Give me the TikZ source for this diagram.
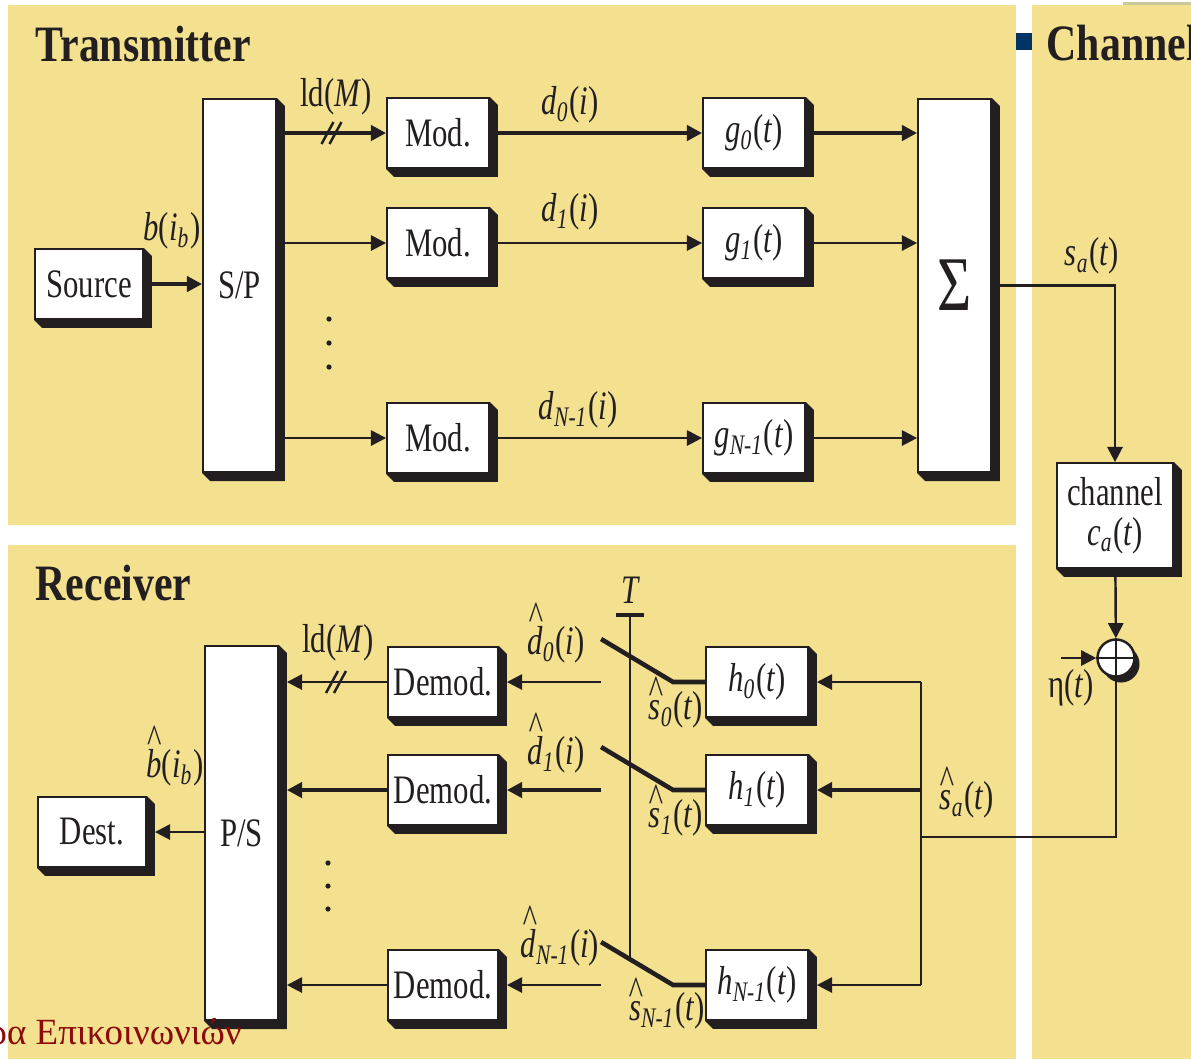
\documentclass[tikz,border=0pt]{standalone}
\usepackage{fontspec}
\setmainfont{Liberation Serif}[FakeStretch=0.76]
\newfontfamily\ttlfont{Liberation Serif}[FakeStretch=0.82]
\newfontfamily\grfont{Liberation Serif}
\usetikzlibrary{positioning,calc,arrows.meta,backgrounds}
\definecolor{panel}{HTML}{F3E18F}
\definecolor{ink}{HTML}{231F20}
\definecolor{navy}{HTML}{003366}
\definecolor{wine}{HTML}{8B0A0A}
\definecolor{strip}{HTML}{C9C99B}
\newcommand{\sg}[3]{\textit{#1}\textsubscript{\textit{#2}}(\textit{#3})}
\newlength{\hraise}
\newcommand{\hatt}[1]{\settoheight{\hraise}{\textit{#1}}\addtolength{\hraise}{-0.08em}%
  \ooalign{\textit{#1}\cr\hidewidth\raisebox{\hraise}{\textasciicircum}\hidewidth\cr}}
\tikzset{
  blk/.style  ={draw=ink, fill=white, line width=0.5pt, inner sep=1pt, align=center,
                font=\fontsize{11.5}{11.5}\selectfont, text=ink,
                minimum width=1.02cm, minimum height=0.70cm},
  % tall converter / summing blocks
  tall/.style ={blk, minimum width=0.73cm, minimum height=3.73cm},
  shade/.style={fill=ink},
  wire/.style ={ink, line width=0.7pt},
  wireb/.style={ink, line width=1.3pt},
  flow/.style ={wire, -{Triangle[length=4.3pt,width=4.3pt]}},
  flowb/.style={wireb, -{Triangle[length=4.3pt,width=4.3pt]}},
  lbl/.style  ={font=\fontsize{11.5}{13}\selectfont, text=ink, inner sep=0pt},
  ttl/.style  ={font=\ttlfont\fontsize{14.5}{16}\selectfont\bfseries, text=ink,
                inner sep=0pt, anchor=base west},
}
\pgfdeclarelayer{paper}
\pgfsetlayers{paper,background,main}
\begin{document}
\begin{tikzpicture}[x=0.01cm,y=-0.01cm]
  \useasboundingbox (0,0) rectangle (1191,1059);
  \clip (0,0) rectangle (1191,1059);
  % panels
  \begin{pgfonlayer}{paper}
    \fill[white] (0,0) rectangle (1191,1059);
    \fill[panel] (8,5) rectangle (1016,525);
    \fill[panel] (8,545) rectangle (1016,1059);
    \fill[panel] (1032,5) rectangle (1191,1059);
    \fill[strip] (1123,2) rectangle (1191,5);
    \fill[navy] (1016,33) rectangle (1032,50);
  \end{pgfonlayer}
  \node[ttl] (TxT) at (35,61) {Transmitter};
  \node[ttl] (RxT) at (35,600) {Receiver};
  \node[ttl] (ChT) at (1046,60) {Channel};

  % transmitter
  \node[blk, minimum width=1.08cm] (Src) at (89,284) {Source};
  \node[tall] (SP) at (239.5,285.5) {S/P};
  \node[blk] (M0) at (438,133) {Mod.};
  \node[blk] (M1) at (438,243) {Mod.};
  \node[blk] (M2) at (438,438) {Mod.};
  \node[blk] (G0) at (754,133) {\sg{g}{0}{t}};
  \node[blk] (G1) at (754,243) {\sg{g}{1}{t}};
  \node[blk] (G2) at (754,438) {\sg{g}{N-1}{t}};
  \node[tall] (Sum) at (954.5,285.5) {\fontsize{22}{22}\selectfont Σ};

  % channel
  \node[blk, minimum width=1.16cm, minimum height=1.05cm] (Chan) at (1115,515.5)
       {channel\\\sg{c}{a}{t}};
  \node[circle, draw=ink, fill=white, line width=0.7pt, minimum size=0.37cm,
        inner sep=0pt] (Add) at (1116,658) {};
  \coordinate (eta) at (1061,658);
  \coordinate (Split) at (921,837);

  % receiver
  \node[tall, minimum height=3.74cm] (PS) at (241.5,833) {P/S};
  \node[blk, minimum width=1.08cm] (Dst) at (92,832) {Dest.};
  \node[blk, minimum width=1.10cm] (D0) at (443,682) {Demod.};
  \node[blk, minimum width=1.10cm] (D1) at (443,790) {Demod.};
  \node[blk, minimum width=1.10cm] (D2) at (443,985) {Demod.};
  \node[blk] (H0) at (757,682) {\sg{h}{0}{t}};
  \node[blk] (H1) at (757,790) {\sg{h}{1}{t}};
  \node[blk] (H2) at (757,985) {\sg{h}{N-1}{t}};

  % shadows
  \begin{scope}[on background layer]
    \foreach \n in {Src,SP,M0,M1,M2,G0,G1,G2,Sum,Chan,PS,Dst,D0,D1,D2,H0,H1,H2}
      \fill[shade] (\n.north east) -- ++(8,8) |- ($(\n.south west)+(8,8)$)
                   -- (\n.south west) -- cycle;
    \fill[shade] ($(Add)+(5,6)$) circle[radius=0.185cm];
  \end{scope}
  \draw[wire, line width=0.5pt] (Add.north) -- (Add.south) (Add.west) -- (Add.east);

  % transmitter wiring
  \draw[flowb] (Src.east) -- (SP.west |- Src.east);
  \draw[flowb] (SP.east |- M0) -- (M0);
  \draw[flow] (SP.east |- M1) -- (M1);
  \draw[flow] (SP.east |- M2) -- (M2);
  \draw[flowb] (M0) -- (G0);
  \draw[flow] (M1) -- (G1);
  \draw[flow] (M2) -- (G2);
  \draw[flowb] (G0) -- (Sum.west |- G0);
  \draw[flow] (G1) -- (Sum.west |- G1);
  \draw[flow] (G2) -- (Sum.west |- G2);
  \coordinate (tx) at ($(SP.east |- M0)!0.5!(M0.west)$);
  \foreach \dx in {-4,4}
    \draw[wire] ($(tx)+(\dx-6,11)$) -- ++(12,-22);
  \foreach \y in {319,343,367}
    \fill[ink] (329,\y) circle[radius=0.026cm];

  % channel wiring
  \draw[flow] (Sum.east) -| (Chan.north);
  \draw[flow] (Chan) -- (Add);
  \draw[flow] (eta) -- (Add);
  \draw[wire] (Add) |- (Split);

  % receiver wiring
  \draw[wire] (Split |- H0) -- (Split |- H2);
  \draw[flow] (Split |- H0) -- ($(H0.east)+(8,0)$);
  \draw[flowb] (Split |- H1) -- ($(H1.east)+(8,0)$);
  \draw[flow] (Split |- H2) -- ($(H2.east)+(8,0)$);
  \foreach \r in {0,1,2}
    \draw[wireb] (H\r.west) -- ++(-32,0) -- ++(-72,-43) coordinate (S\r);
  \draw[flow] (S0 |- H0) -- ($(D0.east)+(8,0)$);
  \draw[flowb] (S1 |- H1) -- ($(D1.east)+(8,0)$);
  \draw[flow] (S2 |- H2) -- ($(D2.east)+(8,0)$);
  \coordinate (Tb) at (630,615);
  \coordinate (Tend) at (630,959);
  \draw[wireb] ($(Tb)+(-14,0)$) -- ++(28,0);
  \draw[wire] (Tb) -- (Tend);
  \draw[flow] (D0) -- ($(PS.east |- D0)+(8,0)$);
  \draw[flowb] (D1) -- ($(PS.east |- D1)+(8,0)$);
  \draw[flow] (D2) -- ($(PS.east |- D2)+(8,0)$);
  \draw[flow] (PS.west |- Dst) -- ($(Dst.east)+(8,0)$);
  \coordinate (rx) at ($(PS.east |- D0)!0.5!(D0.west)$);
  \foreach \dx in {-4,4}
    \draw[wire] ($(rx)+(\dx-3,11)$) -- ++(12,-22);
  \foreach \y in {863,886,909}
    \fill[ink] (328,\y) circle[radius=0.026cm];

  % labels
  \node[lbl] (lbB) at (172,231) {\textit{b}(\textit{i}\textsubscript{\textit{b}})};
  \node[lbl] (lbLd1) at (336,97) {ld(\textit{M})};
  \node[lbl] (lbD0) at (570,105) {\sg{d}{0}{i}};
  \node[lbl] (lbD1) at (570,212) {\sg{d}{1}{i}};
  \node[lbl] (lbD2) at (578,410) {\sg{d}{N-1}{i}};
  \node[lbl] (lbSa) at (1092,256) {\sg{s}{a}{t}};
  \node[lbl] (lbEta) at (1071,688) {η(\textit{t})};
  \node[lbl] (lbT) at (631,590) {\textit{T}};
  \node[lbl] (lbDh0) at (556,645) {\sg{\hatt{d}}{0}{i}};
  \node[lbl] (lbDh1) at (556,755) {\sg{\hatt{d}}{1}{i}};
  \node[lbl] (lbDh2) at (560,948) {\sg{\hatt{d}}{N-1}{i}};
  \node[lbl] (lbSh0) at (676,710) {\sg{\hatt{s}}{0}{t}};
  \node[lbl] (lbSh1) at (676,818) {\sg{\hatt{s}}{1}{t}};
  \node[lbl] (lbSh2) at (667,1011) {\sg{\hatt{s}}{N-1}{t}};
  \node[lbl] (lbSah) at (967,800) {\sg{\hatt{s}}{a}{t}};
  \node[lbl] (lbBh) at (175,768) {\hatt{b}(\textit{i}\textsubscript{\textit{b}})};
  \node[lbl] (lbLd2) at (338,643) {ld(\textit{M})};
  \node[font=\grfont\fontsize{10.5}{12}\selectfont, text=wine, anchor=base west,
        inner sep=0pt] (foot) at (-12,1044) {ρα Επικοινωνιών};
\end{tikzpicture}
\end{document}
